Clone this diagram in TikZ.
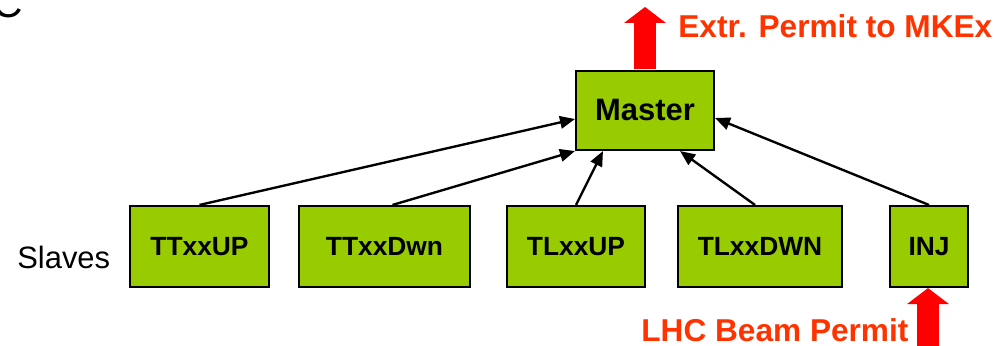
\documentclass[tikz,border=0pt]{standalone}
\usepackage{fontspec}
\setmainfont{Liberation Sans}
\usepackage{xcolor}
\usetikzlibrary{positioning, arrows.meta, calc}
\definecolor{boxgreen}{HTML}{99CC00}
\definecolor{permittext}{HTML}{FF3300}
\definecolor{permitred}{HTML}{FF0000}
\tikzset{
  slavebox/.style={
    rectangle,
    draw=black,
    fill=boxgreen,
    line width=1.2pt,
    minimum height=1.62cm,
    inner sep=0pt,
    font=\fontsize{15}{18}\selectfont\bfseries
  },
  masterbox/.style={
    slavebox,
    minimum width=2.76cm,
    minimum height=1.58cm,
    font=\fontsize{17.6}{20}\selectfont\bfseries
  },
  linkarrow/.style={
    -{Triangle[length=0.3cm,width=0.25cm]},
    line width=1.35pt
  },
  permitarrow/.style={
    permitred,
    line width=0.44cm,
    -{Triangle[length=0.32cm,width=0.82cm]}
  },
  permitlabel/.style={
    text=permittext,
    font=\fontsize{18}{21}\selectfont\bfseries,
    inner sep=0pt,
    anchor=base west
  }
}

\begin{document}
\begin{tikzpicture}[x=0.02cm, y=-0.02cm]
  \useasboundingbox (0,0) rectangle (1001,345);
  \node[anchor=base west, inner sep=0pt, font=\fontsize{24}{24}\selectfont] (title) at (-8,17.5) {C};
  \node[masterbox] (master) at (645,110.5) {Master};
  \node[slavebox, minimum width=2.78cm] (ttup)  at (199.5,246.5) {TTxxUP};
  \node[slavebox, minimum width=3.42cm] (ttdwn) at (384.5,246.5) {TTxxDwn};
  \node[slavebox, minimum width=2.76cm] (tlup)  at (576,246.5)   {TLxxUP};
  \node[slavebox, minimum width=3.28cm] (tldwn) at (760,246.5)   {TLxxDWN};
  \node[slavebox, minimum width=1.56cm] (inj)   at (929,246.5)   {INJ};
  \node[anchor=base west, inner sep=0pt, font=\fontsize{17.6}{20}\selectfont] (slaves) at (17,268) {Slaves};
  \draw[linkarrow] (ttup.north) -- ($(master.west)+(0,8.5)$);
  \draw[linkarrow] ($(ttdwn.north)+(8,0)$) -- (master.south west);
  \draw[linkarrow] (tlup.north) -- ($(master.south west)!0.2!(master.south east)$);
  \draw[linkarrow] ($(tldwn.north)+(-5,0)$) -- ($(master.south west)!0.75!(master.south east)$);
  \draw[linkarrow] (inj.north) -- ($(master.east)+(0,7.5)$);
  \coordinate (extrtip) at ($(master.north)+(0,-63)$);
  \coordinate (beamfoot) at ($(inj.south)+(-1,58)$);
  \draw[permitarrow] ($(master.north)+(0,-0.8)$) -- (extrtip);
  \draw[permitarrow] (beamfoot) -- ($(inj.south)+(-1,0)$);
  \node[permitlabel] (extr) at (678,37) {Extr. Permit to MKEx};
  \node[permitlabel] (beam) at (641,341) {LHC Beam Permit};
\end{tikzpicture}
\end{document}
